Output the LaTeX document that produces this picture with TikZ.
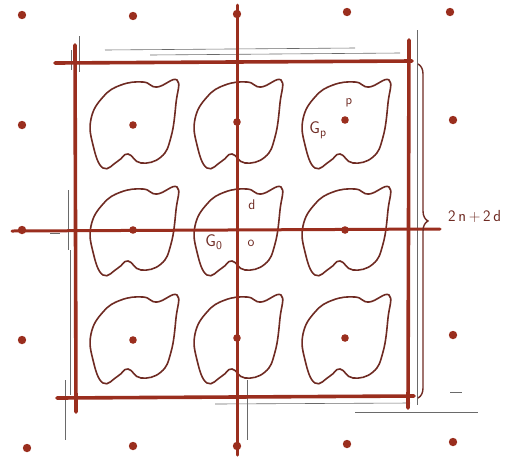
\documentclass[tikz,border=0pt]{standalone}
\usetikzlibrary{decorations.pathreplacing}
\definecolor{ink}{HTML}{9A2E1E}
\definecolor{blobc}{HTML}{6E2A22}
\definecolor{pencil}{HTML}{6A6A6A}
\tikzset{
  thickred/.style={ink, line width=3.6pt, line cap=round},
  axisred/.style={ink, line width=3pt, line cap=round},
  blobline/.style={blobc, line width=1.6pt},
  pencilline/.style={pencil, line width=0.6pt},
  gdot/.style={fill=ink, draw=none},
  lbl/.style={blobc, font=\sffamily\fontsize{16}{16}\selectfont, inner sep=0pt},
  blob/.pic={\draw[blobline] plot[smooth cycle, tension=0.75] coordinates
    {(-42,-6) (-30,-28) (-12,-40) (10,-43) (24,-38) (44,-45) (43,-22) (38,12) (28,32) (8,38) (-5,29) (-15,36) (-30,43) (-40,20)};}
}
\begin{document}
\begin{tikzpicture}[x=1pt,y=-1pt]
\useasboundingbox (0,0) rectangle (524,459);
% pencil sketch lines
\draw[pencilline] (105,50) -- (355,48);
\draw[pencilline] (150,55) -- (400,53);
\draw[pencilline] (79,36) -- (79,72);
\draw[pencilline] (71,50) -- (71,70);
\draw[pencilline] (417,30) -- (417,405);
\draw[pencilline] (355,412) -- (478,412);
\draw[pencilline] (450,392) -- (462,392);
\draw[pencilline] (215,404) -- (410,403);
\draw[pencilline] (247,380) -- (247,440);
\draw[pencilline] (65,380) -- (65,440);
\draw[pencilline] (70,250) -- (70,395);
\draw[pencilline] (68,190) -- (68,250);
\draw[pencilline] (50,233) -- (60,233);
% blobs
\foreach \cx/\cy in {133/125,237/125,345/125,133/232,237/232,345/232,133/340,237/340,345/340}
  \pic at (\cx,\cy) {blob};
% square
\draw[thickred] (55,63) -- (412,61);
\draw[thickred] (57,398) -- (414,396);
\draw[thickred] (75,45) -- (76,412);
\draw[thickred] (409,40) -- (408,408);
% axes
\draw[axisred] (237,5) -- (237,455);
\draw[axisred] (12,231) -- (440,229);
% dots
\foreach \px/\py in {22/15,133/16,237/14,347/12,450/12,
  22/125,453/120,22/230,22/340,453/335,
  27/448,133/446,237/446,347/444,453/442}
  \fill[gdot] (\px,\py) circle (4.2);
\foreach \px/\py in {133/125,237/122,345/120,133/230,345/230,133/340,237/338,345/338}
  \fill[gdot] (\px,\py) circle (3.8);
% brace
\draw[blobc, line width=1.4pt, decorate, decoration={brace, amplitude=10pt, aspect=0.47}] (418,64) -- (418,398);
% labels
\node[lbl, anchor=west] (len) at (448,216) {2\,n\,+\,2\,d};
\node[lbl, font=\sffamily\fontsize{17}{17}\selectfont] (gzero) at (214,242) {G$_{\mathsf{0}}$};
\node[lbl, font=\sffamily\fontsize{14}{14}\selectfont] (o) at (251,243) {o};
\node[lbl, font=\sffamily\fontsize{14}{14}\selectfont] (d) at (252,205) {d};
\node[lbl, font=\sffamily\fontsize{13}{13}\selectfont] (p) at (349,103) {p};
\node[lbl, font=\sffamily\fontsize{17}{17}\selectfont] (gp) at (318,130) {G$_{\mathsf{p}}$};
\end{tikzpicture}
\end{document}
